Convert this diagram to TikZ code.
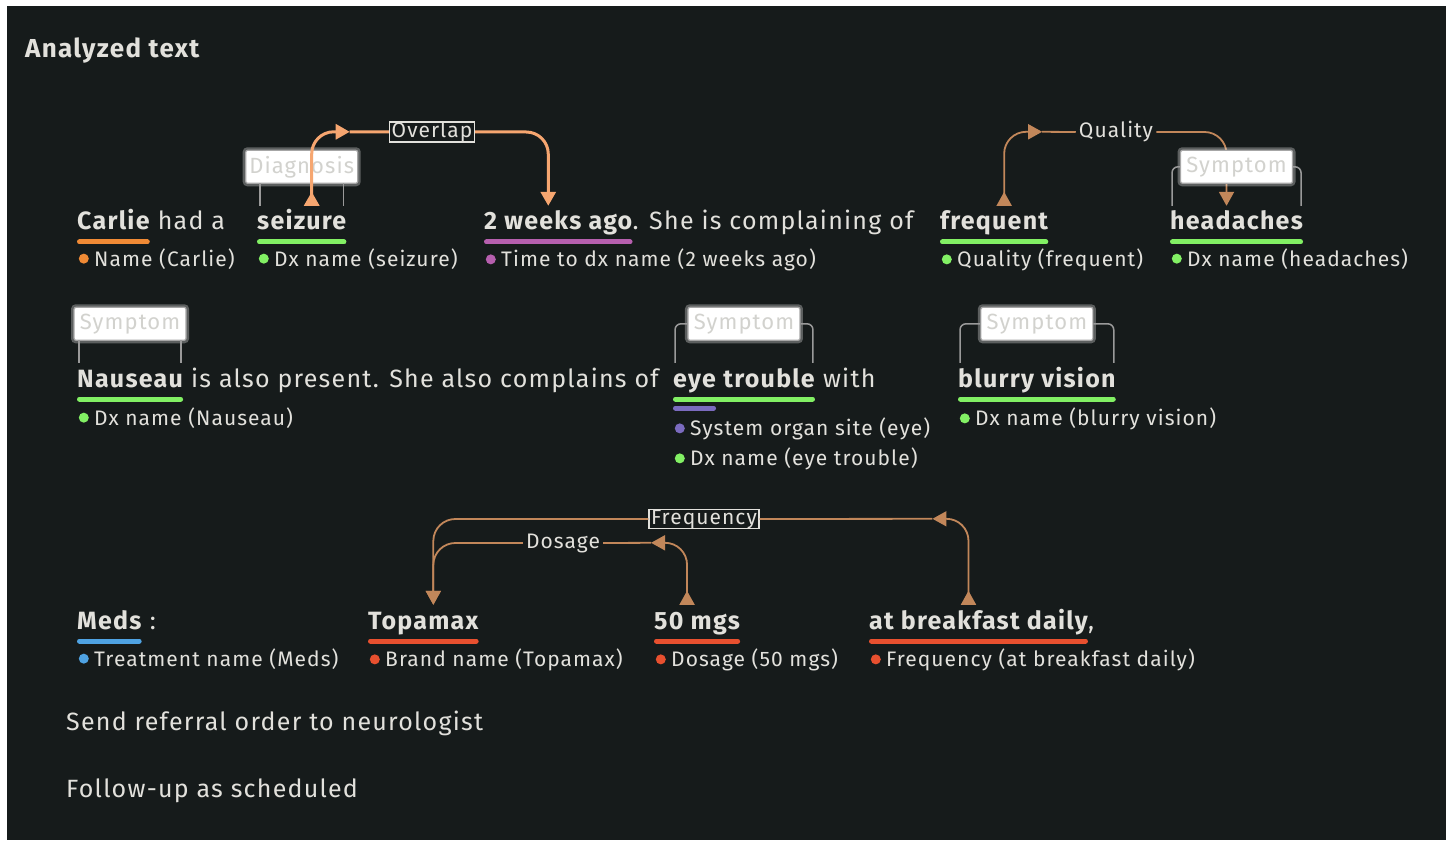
\documentclass[tikz,border=0pt]{standalone}
\usepackage{fontspec}
\setmainfont{Fira Sans}[LetterSpace=5]
\usetikzlibrary{positioning,arrows.meta,calc}

\definecolor{panel}{HTML}{161B1B}
\definecolor{ink}{HTML}{E2E1DC}
\definecolor{tagink}{HTML}{D2D2CE}
\definecolor{brkgray}{HTML}{9A9A9A}
\definecolor{namec}{HTML}{F08A35}
\definecolor{dxc}{HTML}{82F064}
\definecolor{timec}{HTML}{B65FAE}
\definecolor{sitec}{HTML}{7B6BBF}
\definecolor{treatc}{HTML}{4FA3E3}
\definecolor{medc}{HTML}{E8502F}
\definecolor{relbrown}{HTML}{C2875A}
\definecolor{relhot}{HTML}{F6A670}

\newcommand\titlefont{\fontsize{26}{30}\selectfont}
\newcommand\wordfont{\fontsize{25}{29}\selectfont}
\newcommand\labfont{\fontsize{21}{25}\selectfont}
\newcommand\tagfont{\fontsize{22}{26}\selectfont}

\begin{document}
\begin{tikzpicture}[
        x=1pt, y=-1pt,
        % words of the sentence
        word/.style={anchor=base west, inner sep=0pt, text height=24pt, text depth=0pt, text=ink, font=\wordfont\bfseries},
        plain/.style={word, font=\wordfont},
        % entity labels
        lab/.style={anchor=base west, inner sep=0pt, text=ink, font=\labfont},
        dot/.style={circle, fill=#1, minimum size=10pt, inner sep=0pt},
        bar/.style={draw=#1, line width=5pt, line cap=round, shorten <=2.5pt, shorten >=2.5pt},
        % category tags
        tagbox/.style={draw=gray!70, fill=white, rounded corners=2pt, line width=1.2pt, text=tagink, font=\tagfont,
            minimum width=112pt, minimum height=33pt, inner sep=0pt,
            preaction={draw=white, draw opacity=0.3, line width=6pt}},
        brk/.style={draw=brkgray, line width=1.5pt, rounded corners=6pt},
        % relations
        rel/.style={draw=relbrown, line width=1.8pt, rounded corners=22pt},
        relsel/.style={rel, draw=relhot, line width=3pt},
        srcend/.style={arrows={Triangle[reversed,length=14pt,width=15pt]-Triangle[length=14pt,width=15pt]}},
        toend/.style={arrows={-Triangle[length=14pt,width=15pt]}},
        rlab/.style={fill=panel, text=ink, font=\labfont, inner xsep=3pt, inner ysep=1pt},
        rbox/.style={rlab, draw=ink, line width=1.5pt, inner xsep=2pt, inner ysep=0pt},
    ]
    \fill[white] (0,0) rectangle (1450,842);
    \fill[panel] (7,6) rectangle (1446,840);

    \node[anchor=base west, inner sep=0pt, text=ink, font=\titlefont\bfseries] (title) at (25,58) {Analyzed text};

    % row 1
    \node[word] (carlie) at (77,230) {Carlie};
    \node[plain] (hada) at (carlie.base east) {\ had a};
    \node[word] (seizure) at (257,230) {seizure};
    \node[word] (weeks) at (484,230) {2 weeks ago};
    \node[plain] (she) at (weeks.base east) {. She is complaining of};
    \node[word] (frequent) at (940,230) {frequent};
    \node[word] (headaches) at (1170,230) {headaches};

    \draw[bar=namec] ([yshift=-12pt]carlie.base west) -- ([yshift=-12pt]carlie.base east);
    \draw[bar=dxc] ([yshift=-12pt]seizure.base west) -- ([yshift=-12pt]seizure.base east);
    \draw[bar=timec] ([yshift=-12pt]weeks.base west) -- ([yshift=-12pt]weeks.base east);
    \draw[bar=dxc] ([yshift=-12pt]frequent.base west) -- ([yshift=-12pt]frequent.base east);
    \draw[bar=dxc] ([yshift=-12pt]headaches.base west) -- ([yshift=-12pt]headaches.base east);

    \node[lab] (carlieL) at ([xshift=17pt,yshift=-36pt]carlie.base west) {Name (Carlie)};
    \node[dot=namec, left=5pt of carlieL] {};
    \node[lab] (seizureL) at ([xshift=17pt,yshift=-36pt]seizure.base west) {Dx name (seizure)};
    \node[dot=dxc, left=5pt of seizureL] {};
    \node[lab] (weeksL) at ([xshift=17pt,yshift=-36pt]weeks.base west) {Time to dx name (2 weeks ago)};
    \node[dot=timec, left=5pt of weeksL] {};
    \node[lab] (frequentL) at ([xshift=17pt,yshift=-36pt]frequent.base west) {Quality (frequent)};
    \node[dot=dxc, left=5pt of frequentL] {};
    \node[lab] (headachesL) at ([xshift=17pt,yshift=-36pt]headaches.base west) {Dx name (headaches)};
    \node[dot=dxc, left=5pt of headachesL] {};

    % frequent -> headaches, runs under the tag
    \node[rlab] (quality) at (1116,132) {Quality};
    \draw[rel, srcend] ([xshift=10pt]frequent.north) |- ++(38,-74) coordinate (qualmid);
    \draw[rel] (qualmid) -- (quality.west);
    \draw[rel, toend] (quality.east) -| ([xshift=-10pt]headaches.north);

    \node[tagbox] (diagtag) at ([yshift=39pt]seizure.north) {Diagnosis};
    \draw[brk] ([xshift=3pt]seizure.north west) -- ++(0,-23);
    \draw[brk] ([xshift=-3pt]seizure.north east) -- ++(0,-23);
    \node[tagbox] (headtag) at ([yshift=39pt]headaches.north) {Symptom};
    \draw[brk] (headtag.west) -| ([xshift=2pt]headaches.north west);
    \draw[brk] (headtag.east) -| ([xshift=-2pt]headaches.north east);

    % seizure -> 2 weeks ago (selected)
    \node[rbox] (overlap) at (432,132) {Overlap};
    \draw[relsel, srcend] ([xshift=10pt]seizure.north) |- ++(38,-74) coordinate (ovmid);
    \draw[relsel] (ovmid) -- (overlap.west);
    \draw[relsel, toend] (overlap.east) -| ([xshift=-10pt]weeks.north);

    % row 2
    \node[word] (nauseau) at (77,387) {Nauseau};
    \node[plain] (present) at (nauseau.base east) {\ is also present. She also complains of};
    \node[word] (eye) at (673,387) {eye};
    \node[word] (trouble) at (eye.base east) {\ trouble};
    \node[plain] (with) at (trouble.base east) {\ with};
    \node[word] (blurry) at (958,387) {blurry vision};

    \draw[bar=dxc] ([yshift=-12pt]nauseau.base west) -- ([yshift=-12pt]nauseau.base east);
    \draw[bar=dxc] ([yshift=-12pt]eye.base west) -- ([yshift=-12pt]trouble.base east);
    \draw[bar=sitec] ([yshift=-21pt]eye.base west) -- ([yshift=-21pt]eye.base east);
    \draw[bar=dxc] ([yshift=-12pt]blurry.base west) -- ([yshift=-12pt]blurry.base east);

    \node[lab] (nauseauL) at ([xshift=17pt,yshift=-38pt]nauseau.base west) {Dx name (Nauseau)};
    \node[dot=dxc, left=5pt of nauseauL] {};
    \node[lab] (eyeL) at ([xshift=17pt,yshift=-48pt]eye.base west) {System organ site (eye)};
    \node[dot=sitec, left=5pt of eyeL] {};
    \node[lab] (troubleL) at ([xshift=17pt,yshift=-78pt]eye.base west) {Dx name (eye trouble)};
    \node[dot=dxc, left=5pt of troubleL] {};
    \node[lab] (blurryL) at ([xshift=17pt,yshift=-38pt]blurry.base west) {Dx name (blurry vision)};
    \node[dot=dxc, left=5pt of blurryL] {};

    \node[tagbox] (nautag) at ([yshift=39pt]nauseau.north) {Symptom};
    \draw[brk] ([xshift=2pt]nauseau.north west) -- ++(0,-23);
    \draw[brk] ([xshift=-2pt]nauseau.north east) -- ++(0,-23);
    \node[tagbox] (eyetag) at ([yshift=39pt]$(eye.north west)!0.5!(trouble.north east)$) {Symptom};
    \draw[brk] (eyetag.west) -| ([xshift=2pt]eye.north west);
    \draw[brk] (eyetag.east) -| ([xshift=-2pt]trouble.north east);
    \node[tagbox] (blurtag) at ([yshift=39pt]blurry.north) {Symptom};
    \draw[brk] (blurtag.west) -| ([xshift=2pt]blurry.north west);
    \draw[brk] (blurtag.east) -| ([xshift=-2pt]blurry.north east);

    % row 3
    \node[word] (meds) at (77,629) {Meds};
    \node[plain] (colon) at (meds.base east) {\ :};
    \node[word] (topamax) at (368,629) {Topamax};
    \node[word] (mgs) at (654,629) {50 mgs};
    \node[word] (breakfast) at (869,629) {at breakfast daily};
    \node[plain] (comma) at (breakfast.base east) {,};

    \draw[bar=treatc] ([yshift=-12pt]meds.base west) -- ([yshift=-12pt]meds.base east);
    \draw[bar=medc] ([yshift=-12pt]topamax.base west) -- ([yshift=-12pt]topamax.base east);
    \draw[bar=medc] ([yshift=-12pt]mgs.base west) -- ([yshift=-12pt]mgs.base east);
    \draw[bar=medc] ([yshift=-12pt]breakfast.base west) -- ([yshift=-12pt]breakfast.base east);

    \node[lab] (medsL) at ([xshift=17pt,yshift=-37pt]meds.base west) {Treatment name (Meds)};
    \node[dot=treatc, left=5pt of medsL] {};
    \node[lab] (topamaxL) at ([xshift=17pt,yshift=-37pt]topamax.base west) {Brand name (Topamax)};
    \node[dot=medc, left=5pt of topamaxL] {};
    \node[lab] (mgsL) at ([xshift=17pt,yshift=-37pt]mgs.base west) {Dosage (50 mgs)};
    \node[dot=medc, left=5pt of mgsL] {};
    \node[lab] (breakfastL) at ([xshift=17pt,yshift=-37pt]breakfast.base west) {Frequency (at breakfast daily)};
    \node[dot=medc, left=5pt of breakfastL] {};

    % at breakfast daily -> Topamax
    \node[rbox] (freq) at (704,519) {Frequency};
    \draw[rel, srcend] ([xshift=-10pt]breakfast.north) |- ++(-36,-86) coordinate (freqmid);
    \draw[rel] (freqmid) -- (freq.east);
    \draw[rel, toend] (freq.west) -| ([xshift=10pt]topamax.north);

    % 50 mgs -> Topamax
    \node[rlab] (dosage) at (563,543) {Dosage};
    \draw[rel, srcend] ([xshift=-10pt]mgs.north) |- ++(-36,-62) coordinate (dosmid);
    \draw[rel] (dosmid) -- (dosage.east);
    \draw[rel, toend] (dosage.west) -| ([xshift=10pt]topamax.north);

    % plain lines below
    \node[plain] (referral) at (66,730) {Send referral order to neurologist};
    \node[plain] (followup) at (66,797) {Follow-up as scheduled};
\end{tikzpicture}
\end{document}
